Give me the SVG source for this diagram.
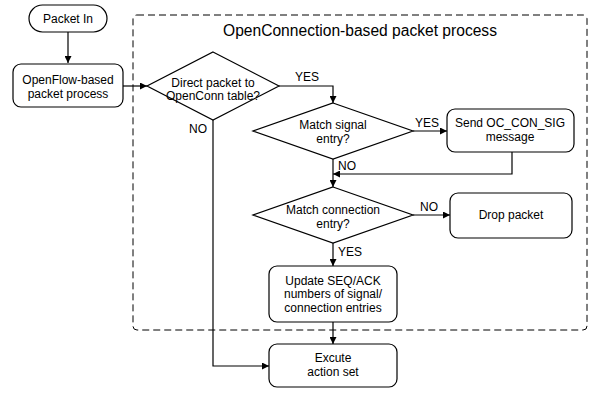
<svg xmlns="http://www.w3.org/2000/svg" width="590" height="393" viewBox="0 0 590 393">
<defs>
<marker id="ah" viewBox="0 0 10 10" refX="10" refY="5" markerWidth="7" markerHeight="7" markerUnits="userSpaceOnUse" orient="auto">
<path d="M0,0 L10,5 L0,10 z" fill="#000"/>
</marker>
<style>
.n{fill:#fff;stroke:#000;stroke-width:1.2}
.t{font-family:"Liberation Sans",Arial,sans-serif;font-size:12px;fill:#000;text-anchor:middle}
.l{font-family:"Liberation Sans",Arial,sans-serif;font-size:12px;fill:#000}
.c{fill:none;stroke:#000;stroke-width:1.2}
</style>
</defs>
<rect width="590" height="393" fill="#fff"/>
<g id="container">
<rect x="133" y="15" width="454" height="315" rx="4" fill="none" stroke="#000" stroke-width="1" stroke-dasharray="7,4"/>
<text x="360" y="36" font-family="'Liberation Sans',Arial,sans-serif" font-size="15.6" text-anchor="middle">OpenConnection-based packet process</text>
</g>
<g id="connectors">
<path class="c" d="M68,32 V63" marker-end="url(#ah)"/>
<path class="c" d="M123,86 H147" marker-end="url(#ah)"/>
<path class="c" d="M279,86 H333 V103" marker-end="url(#ah)"/>
<path class="c" d="M413,131 H447" marker-end="url(#ah)"/>
<path class="c" d="M512,152 V174 H333" marker-end="url(#ah)"/>
<path class="c" d="M333,159 V187" marker-end="url(#ah)"/>
<path class="c" d="M413,215 H450" marker-end="url(#ah)"/>
<path class="c" d="M333,243 V266" marker-end="url(#ah)"/>
<path class="c" d="M333,322 V344" marker-end="url(#ah)"/>
<path class="c" d="M213,120 V366 H269" marker-end="url(#ah)"/>
<text class="l" x="295" y="81">YES</text>
<text class="l" x="415" y="127">YES</text>
<text class="l" x="338" y="170">NO</text>
<text class="l" x="420" y="211">NO</text>
<text class="l" x="338" y="256">YES</text>
<text class="l" x="189" y="133">NO</text>
</g>
<g id="packet-in">
<rect class="n" x="29" y="5" width="78" height="27" rx="13.5"/>
<text class="t" x="68" y="23">Packet In</text>
</g>
<g id="openflow">
<rect class="n" x="13" y="64" width="110" height="43" rx="8"/>
<text class="t" x="68" y="84">OpenFlow-based</text>
<text class="t" x="68" y="98">packet process</text>
</g>
<g id="direct">
<polygon class="n" points="213,52 279,86 213,120 147,86"/>
<text class="t" x="213" y="87">Direct packet to</text>
<text class="t" x="213" y="100">OpenConn table?</text>
</g>
<g id="match-signal">
<polygon class="n" points="333,103 413,131 333,159 253,131"/>
<text class="t" x="333" y="129">Match signal</text>
<text class="t" x="333" y="143">entry?</text>
</g>
<g id="send">
<rect class="n" x="447" y="109" width="127" height="43" rx="8"/>
<text class="t" x="510" y="127">Send OC_CON_SIG</text>
<text class="t" x="510" y="141">message</text>
</g>
<g id="match-conn">
<polygon class="n" points="333,187 413,215 333,243 253,215"/>
<text class="t" x="333" y="214">Match connection</text>
<text class="t" x="333" y="228">entry?</text>
</g>
<g id="drop">
<rect class="n" x="450" y="193" width="122" height="45" rx="8"/>
<text class="t" x="511" y="219">Drop packet</text>
</g>
<g id="update">
<rect class="n" x="269" y="266" width="128" height="56" rx="8"/>
<text class="t" x="333" y="285">Update SEQ/ACK</text>
<text class="t" x="333" y="298">numbers of signal/</text>
<text class="t" x="333" y="312">connection entries</text>
</g>
<g id="execute">
<rect class="n" x="269" y="344" width="128" height="43" rx="8"/>
<text class="t" x="333" y="362">Excute</text>
<text class="t" x="333" y="376">action set</text>
</g>
</svg>
